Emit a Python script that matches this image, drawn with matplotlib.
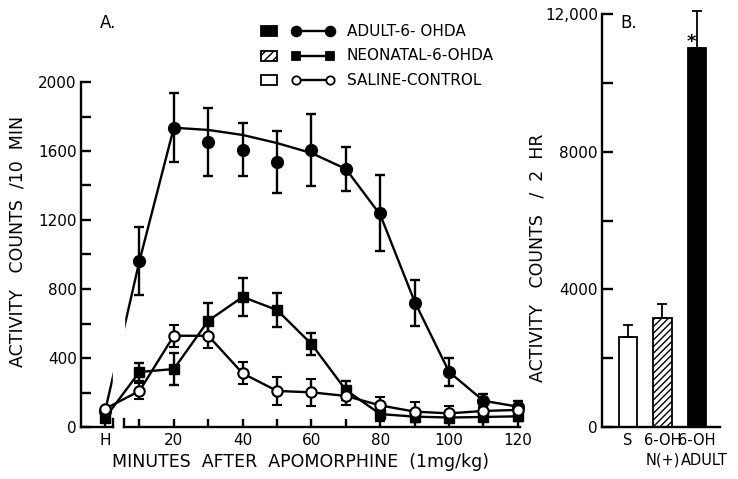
import matplotlib.pyplot as plt
import matplotlib.ticker as ticker
import matplotlib.transforms as mtransforms
from matplotlib.patches import Rectangle

plt.rcParams['font.family'] = ['DejaVu Sans']

# Panel A: activity per 10 min (x = 0 is the habituation point "H")
minutes = [0, 10, 20, 30, 40, 50, 60, 70, 80, 90, 100, 110, 120]

adult_pts = [90, 962, 1735, 1652, 1608, 1536, 1606, 1496, 1240, 719, 319, 152, 118]
adult_err = [0, 195, 200, 195, 155, 180, 210, 125, 220, 135, 80, 40, 35]
# hand-drawn fitted curve through the adult points
adult_curve = [90, 962, 1735, 1722, 1693, 1646, 1588, 1496, 1230, 726, 319, 152, 118]

neo_pts = [52, 319, 336, 616, 754, 678, 481, 214, 75, 60, 55, 58, 62]
neo_err = [0, 50, 95, 100, 110, 100, 65, 55, 40, 30, 25, 25, 25]

sal_pts = [105, 209, 529, 529, 311, 209, 201, 180, 125, 89, 79, 93, 99]
sal_err = [0, 45, 63, 70, 63, 82, 80, 50, 50, 55, 45, 25, 30]

xtick_vals = [0, 10, 20, 30, 40, 50, 60, 70, 80, 90, 100, 110, 120]
xtick_labels = ['H', '', '20', '', '40', '', '60', '', '80', '', '100', '', '120']

# Panel B: activity per 2 hr
groups = ['S', '6-OH\nN(+)', '6-OH\nADULT']
totals = [2609, 3159, 11023]
totals_err = [348, 406, 1064]

FS = 11
LW = 1.7

fig = plt.figure(figsize=(7.38, 4.79), dpi=100)

# ---------------- Panel A ----------------
ax = fig.add_axes([81/738, 52/479, 440/738, 345/479])
ax.set_xlim(-6.98, 120.9)
ax.set_ylim(0, 2000)

ax.plot(minutes, adult_curve, color='black', lw=LW, zorder=2, clip_on=False)
ax.errorbar(minutes, adult_pts, yerr=adult_err, fmt='o', color='black', ms=8.5,
            elinewidth=LW, capsize=3.5, capthick=LW, zorder=4, clip_on=False)
ax.errorbar(minutes, neo_pts, yerr=neo_err, fmt='s-', color='black', ms=7.5, lw=LW,
            elinewidth=LW, capsize=3.5, capthick=LW, zorder=4, clip_on=False)
ax.errorbar(minutes, sal_pts, yerr=sal_err, fmt='o-', color='black', mfc='white',
            mew=1.5, ms=7.5, lw=LW, elinewidth=LW, capsize=3.5, capthick=LW,
            zorder=4, clip_on=False)

# axis break between H and the timed points
brk_lo, brk_hi = 2.4, 5.5
ax.axvspan(brk_lo, brk_hi, color='white', zorder=3.5)
ax.plot([-6.98, brk_lo], [0, 0], color='black', lw=LW, clip_on=False, zorder=5)
ax.plot([brk_hi, 120.6], [0, 0], color='black', lw=LW, clip_on=False, zorder=5)
for xb in (brk_lo, brk_hi):
    ax.plot([xb, xb], [0, 45], color='black', lw=LW, clip_on=False, zorder=5)

for s in ['top', 'right', 'bottom']:
    ax.spines[s].set_visible(False)
ax.spines['left'].set_linewidth(LW)

ax.set_yticks([0, 400, 800, 1200, 1600, 2000])
ax.yaxis.set_minor_locator(ticker.MultipleLocator(200))
ax.set_xticks(xtick_vals)
ax.set_xticklabels(xtick_labels)
ax.tick_params(axis='both', which='both', direction='in', width=LW, labelsize=FS)
ax.tick_params(axis='y', which='both', length=7, pad=3)
ax.tick_params(axis='x', length=6, pad=4)

ax.set_xlabel('MINUTES  AFTER  APOMORPHINE  (1mg/kg)', fontsize=12.5, labelpad=4)
fig.text(18/738, 1 - 241/479, 'ACTIVITY   COUNTS  /10  MIN', rotation=90,
         ha='center', va='center', fontsize=12.5)
fig.text(100/738, 1 - 28/479, 'A.', fontsize=12)

# legend drawn in figure pixel space, on top of panel A
leg = fig.add_axes([0, 0, 1, 1], zorder=10)
leg.set_xlim(0, 738)
leg.set_ylim(479, 0)
leg.axis('off')
legend_rows = [
    ('ADULT-6- OHDA', dict(facecolor='black'), dict(marker='o', mfc='black', ms=7)),
    ('NEONATAL-6-OHDA', dict(facecolor='white', hatch='////'), dict(marker='s', mfc='black', ms=6)),
    ('SALINE-CONTROL', dict(facecolor='white'), dict(marker='o', mfc='white', ms=6)),
]
for i, (name, box_kw, mk_kw) in enumerate(legend_rows):
    yc = 31 + i * 24.5
    leg.add_patch(Rectangle((261, yc - 5), 16, 10, edgecolor='black', lw=1.3, **box_kw))
    leg.plot([296, 330], [yc, yc], color='black', lw=LW, mec='black', mew=1.3, **mk_kw)
    leg.text(347, yc, name, va='center', ha='left', fontsize=FS)

# ---------------- Panel B ----------------
bx = fig.add_axes([602/738, 52/479, 118/738, 413/479])
bx.set_xlim(0.246, 3.67)
bx.set_ylim(0, 12000)
pos = [1, 2, 3]
bars = bx.bar(pos, totals, width=0.54, color=['white', 'white', 'black'],
              edgecolor='black', linewidth=1.3)
bars[1].set_hatch('/////')
bx.errorbar(pos, totals, yerr=[[0, 0, 0], totals_err], fmt='none', ecolor='black',
            elinewidth=1.3, capsize=3.5, capthick=1.3, clip_on=False)
bx.text(pos[2] - 0.16, totals[2] - 110, '*', ha='center', va='bottom', fontsize=13,
        fontweight='bold')

for s in ['top', 'right']:
    bx.spines[s].set_visible(False)
bx.spines['left'].set_linewidth(LW)
bx.spines['bottom'].set_linewidth(LW)
bx.set_yticks([0, 4000, 8000, 12000])
bx.set_yticklabels(['0', '4000', '8000', '12,000'])
bx.yaxis.set_minor_locator(ticker.MultipleLocator(2000))
bx.set_xticks(pos)
bx.set_xticklabels([g.split('\n')[0] for g in groups])
bx.tick_params(axis='y', which='both', direction='in', length=8, width=LW,
               labelsize=FS, pad=3)
bx.tick_params(axis='x', length=0, labelsize=10.5, pad=4)
# second line of the group labels
blend = mtransforms.blended_transform_factory(bx.transData, bx.transAxes)
shift = [0, 0, 0.22]
for p, g, dx in zip(pos, groups, shift):
    parts = g.split('\n')
    if len(parts) > 1:
        bx.text(p + dx, -0.062, parts[1], transform=blend, ha='center', va='top',
                fontsize=10.5)
fig.text(538/738, 1 - 258/479, 'ACTIVITY   COUNTS   /  2  HR', rotation=90,
         ha='center', va='center', fontsize=12.5)
fig.text(620/738, 1 - 28/479, 'B.', fontsize=12)

fig.savefig('out.png', dpi=100)
